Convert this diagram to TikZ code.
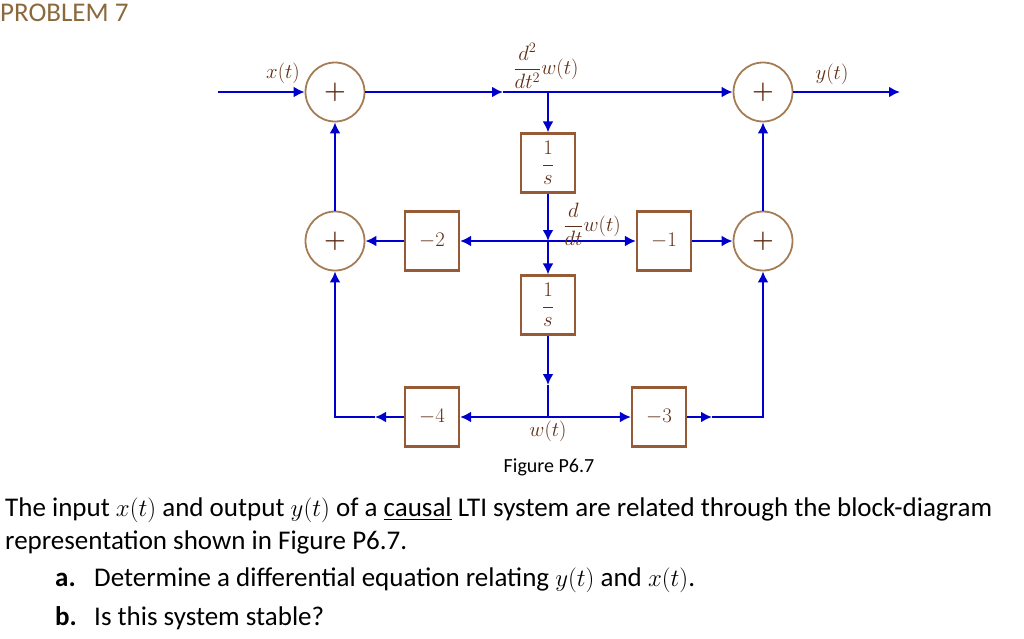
\documentclass[tikz,border=0pt]{standalone}
\usepackage{amsmath}
\usepackage{fontspec}
\setmainfont{Carlito}
\usetikzlibrary{arrows.meta}
\definecolor{wire}{RGB}{0,0,205}
\definecolor{ring}{RGB}{165,125,85}
\definecolor{boxc}{RGB}{150,90,55}
\definecolor{ink}{RGB}{95,45,20}
\definecolor{titlec}{RGB}{140,105,60}
\begin{document}
\begin{tikzpicture}[x=1pt, y=-1pt,
  adder/.style={circle, draw=ring, line width=1.8pt, minimum size=59pt, inner sep=0pt, text=ink, font=\fontsize{28}{28}\selectfont\boldmath},
  block/.style={rectangle, draw=boxc, line width=2.2pt, minimum width=54pt, minimum height=59pt, inner sep=0pt, text=ink, font=\fontsize{22}{22}\selectfont},
  flow/.style={draw=wire, line width=2.2pt, -{Latex[length=11pt, width=11pt]}},
  wire line/.style={draw=wire, line width=2.2pt},
  lbl/.style={text=ink, font=\fontsize{20}{20}\selectfont, inner sep=0pt},
  txt/.style={anchor=base west, inner sep=0pt, font=\fontsize{27}{30}\selectfont}]
	\useasboundingbox (0,0) rectangle (1024,638);

	\node (ttl)[anchor=base west, inner sep=0pt, text=titlec, font=\fontsize{27}{27}\selectfont] at (0,21){PROBLEM 7};

	\node (a1)[adder] at (335,92){$+$};
	\node (a2)[adder] at (763,92){$+$};
	\node (a3)[adder] at (335,241){$+$};
	\node (a4)[adder] at (763,241){$+$};

	\node (s1)[block] at (548,163){$\dfrac{\raisebox{2pt}{$1$}}{\rule{0pt}{16pt}s}$};
	\node (s2)[block] at (548,305){$\dfrac{\raisebox{2pt}{$1$}}{\rule{0pt}{16pt}s}$};
	\node (k2)[block] at (432,241){$-2$};
	\node (k1)[block] at (664,241){$-1$};
	\node (k4)[block] at (432,417){$-4$};
	\node (k3)[block] at (659,417){$-3$};

	\coordinate (in) at (218,92);
	\coordinate (out) at (900,92);
	\coordinate (m1) at (503,92);
	\coordinate (j1) at (548,92);
	\coordinate (j2) at (548,241);
	\coordinate (m2) at (548,385);
	\coordinate (j3) at (548,417);
	\coordinate (m3) at (375,417);
	\coordinate (m4) at (712,417);
	\coordinate (c1) at (335,417);
	\coordinate (c2) at (763,417);

	% top path
	\draw[flow] (in) -- (a1);
	\draw[flow] (a1) -- (m1);
	\draw[flow] (m1) -- (a2);
	\draw[flow] (a2) -- (out);

	% integrators
	\draw[flow] (j1) -- (s1);
	\draw[flow] (s1) -- (j2);
	\draw[flow] (j2) -- (s2);
	\draw[flow] (s2) -- (m2);
	\draw[wire line] (m2) -- (j3);

	% middle gains
	\draw[flow] (j2) -- (k2);
	\draw[flow] (k2) -- (a3);
	\draw[flow] (j2) -- (k1);
	\draw[flow] (k1) -- (a4);

	% bottom gains
	\draw[flow] (j3) -- (k4);
	\draw[flow] (k4) -- (m3);
	\draw[flow] (m3) -- (c1) -- (a3);
	\draw[flow] (j3) -- (k3);
	\draw[flow] (k3) -- (m4);
	\draw[flow] (m4) -- (c2) -- (a4);

	\draw[flow] (a3) -- (a1);
	\draw[flow] (a4) -- (a2);

	% signal labels
	\node (lx)[lbl] at (283,73){$x(t)$};
	\node (ly)[lbl] at (832,74){$y(t)$};
	\node (lw2)[lbl] at (546,66){$\dfrac{d^2}{dt^2}w(t)$};
	\node (lw1)[lbl] at (592,224){$\dfrac{d}{dt}w(t)$};
	\node (lw)[lbl] at (548,431){$w(t)$};

	\node (cap)[inner sep=0pt, font=\fontsize{20}{20}\selectfont] at (549,467){Figure P6.7};

	% problem text
	\node (t1)[txt] at (5,516){The input $x(t)$ and output $y(t)$ of a \underline{causal} LTI system are related through the block-diagram};
	\node (t2)[txt] at (5,549){representation shown in Figure P6.7.};
	\node (qa)[txt, font=\fontsize{27}{30}\selectfont\bfseries] at (55,586){a.};
	\node (ta)[txt] at (94,586){Determine a differential equation relating $y(t)$ and $x(t)$.};
	\node (qb)[txt, font=\fontsize{27}{30}\selectfont\bfseries] at (55,625){b.};
	\node (tb)[txt] at (94,625){Is this system stable?};
\end{tikzpicture}
\end{document}
